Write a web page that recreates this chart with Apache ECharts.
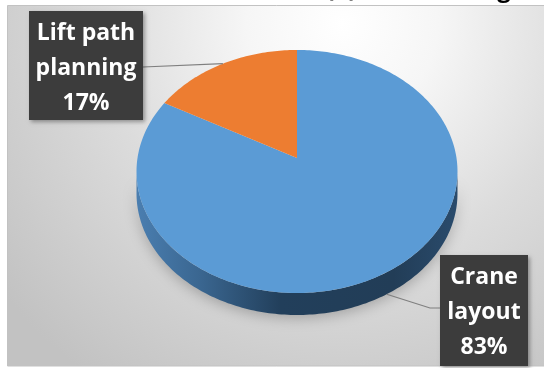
<!DOCTYPE html>
<html>
<head>
<meta charset="utf-8">
<script src="https://cdn.jsdelivr.net/npm/echarts@6/dist/echarts.min.js"></script>
<style>html,body{margin:0;padding:0;background:#fff;}#c{width:544px;height:368px;}</style>
</head>
<body>
<div id="c"></div>
<script>
// ---- data ----
const categories = ['Crane layout', 'Lift path planning'];
const values = [83, 17];
const labelNames = ['Crane\nlayout', 'Lift path\nplanning'];
const sliceColors = ['#5b9bd5', '#ed7d31'];
const titleText = '(a) Crane lifting';

// ---- layout (not data) ----
const P = { cx: 297, cy: 158, A: 120, B: 159.5, k: 0.111, depth: 22 };
const boxes = [
  { x: 440, y: 255, w: 88, h: 111, ty: 312, ly: 308, elbow: 10, side: 'right' },
  { x: 29, y: 11, w: 114, h: 109, ty: 68, ly: 67, elbow: 0, side: 'left' }
];

const total = values.reduce((a, b) => a + b, 0);
function proj(th, dy) {
  const u = Math.sin(th), v = Math.cos(th), den = 1 + P.k * v;
  return [P.cx + P.B * u / den, P.cy - P.A * v / den + (dy || 0)];
}
function arcPts(a, b, dy) {
  const pts = [];
  const n = Math.max(2, Math.ceil(Math.abs(b - a) / (Math.PI / 180)));
  for (let i = 0; i <= n; i++) pts.push(proj(a + (b - a) * i / n, dy));
  return pts;
}
const sil1 = Math.acos(-P.k);
const sil2 = 2 * Math.PI - Math.acos(-P.k);

const chart = echarts.init(document.getElementById('c'), null, { renderer: 'canvas' });

chart.setOption({
  animation: false,
  graphic: [
    {
      type: 'rect', z: -10,
      shape: { x: 7.5, y: 5.5, width: 540, height: 360.5 },
      style: {
        fill: {
          type: 'radial', x: 0.62, y: 0.05, r: 1.2,
          colorStops: [
            { offset: 0, color: '#ffffff' },
            { offset: 0.22, color: '#f6f6f6' },
            { offset: 0.55, color: '#dcdcdc' },
            { offset: 1, color: '#c2c2c2' }
          ]
        },
        stroke: '#c2c2c2', lineWidth: 1
      }
    },
    {
      type: 'text', z: 10, x: 326, y: 2.5,
      style: {
        text: titleText, fill: '#000', font: 'bold 24px "Open Sans"',
        verticalAlign: 'bottom', lineHeight: 24
      }
    }
  ],
  series: [{
    type: 'custom',
    coordinateSystem: 'none',
    silent: true,
    data: values.map((v, i) => ({ value: v, name: categories[i] })),
    renderItem: function (params, api) {
      const i = params.dataIndex;
      let before = 0;
      for (let j = 0; j < i; j++) before += values[j];
      const a = before / total * 2 * Math.PI;
      const b = (before + values[i]) / total * 2 * Math.PI;
      const children = [];
      const s1 = Math.max(a, sil1), s2 = Math.min(b, sil2);
      if (s2 > s1) {
        const top = arcPts(s1, s2, 0);
        const bot = arcPts(s2, s1, P.depth);
        children.push({
          type: 'polygon',
          shape: { points: top.concat(bot) },
          style: {
            fill: {
              type: 'linear', x: 0, y: 0, x2: 1, y2: 0,
              colorStops: [
                { offset: 0, color: '#4a7eb0' },
                { offset: 0.2, color: '#3a6690' },
                { offset: 0.45, color: '#223f5b' },
                { offset: 0.8, color: '#223d57' },
                { offset: 1, color: '#2a4b6c' }
              ]
            },
            shadowBlur: 14, shadowColor: 'rgba(0,0,0,0.25)', shadowOffsetY: 3
          }
        });
      }
      children.push({
        type: 'polygon',
        shape: { points: [[P.cx, P.cy]].concat(arcPts(a, b, 0)) },
        style: { fill: sliceColors[i] }
      });
      const mid = (a + b) / 2;
      const front = Math.cos(mid) < 0;
      const anchor = proj(mid, front ? P.depth : 0);
      const bx = boxes[i];
      const endX = bx.side === 'right' ? bx.x : bx.x + bx.w;
      const pts = [anchor];
      if (bx.elbow) pts.push([endX - bx.elbow, bx.ly]);
      pts.push([endX, bx.ly]);
      children.push({
        type: 'polyline', shape: { points: pts },
        style: { stroke: '#7f7f7f', lineWidth: 1.2, fill: null }
      });
      children.push({
        type: 'rect', shape: { x: bx.x, y: bx.y, width: bx.w, height: bx.h },
        style: { fill: '#3c3c3c', shadowBlur: 4, shadowOffsetX: 2, shadowOffsetY: 2, shadowColor: 'rgba(0,0,0,0.35)' }
      });
      const pct = Math.round(values[i] / total * 100) + '%';
      children.push({
        type: 'text', x: bx.x + bx.w / 2, y: bx.ty,
        style: {
          text: labelNames[i] + '\n' + pct, fill: '#ffffff',
          font: 'bold 23px "Open Sans"', lineHeight: 35,
          align: 'center', verticalAlign: 'middle'
        }
      });
      return { type: 'group', children: children };
    }
  }]
});
</script>
</body>
</html>
